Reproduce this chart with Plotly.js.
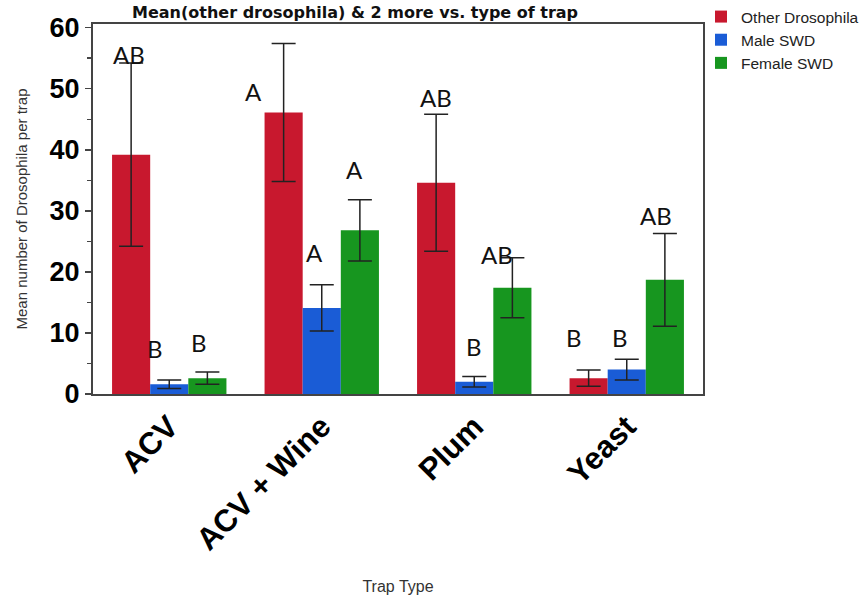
<!DOCTYPE html>
<html>
<head>
<meta charset="utf-8">
<script src="https://cdn.plot.ly/plotly-3.0.1.min.js"></script>
<style>html,body{margin:0;padding:0;background:#fff;}#chart{width:866px;height:600px;}</style>
</head>
<body>
<div id="chart"></div>
<script>
// ---- data ----
const categories = ["ACV", "ACV + Wine", "Plum", "Yeast"];
const seriesNames = ["Other Drosophila", "Male SWD", "Female SWD"];
const otherMean = [39.2, 46.1, 34.6, 2.6];
const otherErr  = [15.0, 11.3, 11.2, 1.35];
const maleMean  = [1.6, 14.1, 2.0, 4.0];
const maleErr   = [0.7, 3.8, 0.85, 1.7];
const femaleMean = [2.6, 26.8, 17.4, 18.7];
const femaleErr  = [1.0, 5.0, 4.9, 7.6];
// significance letters per series (rows) and category (columns)
const letters = [
  ["AB", "A", "AB", "B"],
  ["B", "A", "B", "B"],
  ["B", "A", "AB", "AB"]
];
const letterHeights = [
  [55.6, 49.5, 48.5, 9.3],
  [7.5, 23.1, 7.7, 9.3],
  [8.4, 36.7, 22.8, 29.2]
];
// ---- style ----
const colors = ["#C8182E", "#1A5CD6", "#17961F"];
const letterShift = [
  [-2, -30, 0, -15],
  [-14, -7, 0, -7],
  [-8, -5, -15, -9]
];

const means = [otherMean, maleMean, femaleMean];
const errs = [otherErr, maleErr, femaleErr];

const traces = seriesNames.map((name, s) => ({
  type: "bar",
  name: name,
  x: categories,
  y: means[s],
  marker: {color: colors[s], line: {width: 0}},
  error_y: {type: "data", array: errs[s], visible: true, color: "#222", thickness: 1.5, width: 12}
}));

const annotations = [];
const barW = 0.25;
letters.forEach((row, s) => {
  row.forEach((txt, c) => {
    annotations.push({
      x: c + (s - 1) * barW, y: letterHeights[s][c], xref: "x", yref: "y",
      text: txt, showarrow: false, xanchor: "center", yanchor: "middle",
      xshift: letterShift[s][c],
      font: {family: "Lato, 'Open Sans', sans-serif", size: 24, color: "#111"}
    });
  });
});

const layout = {
  width: 866, height: 600,
  margin: {l: 93, r: 163, t: 24, b: 206, autoexpand: false},
  paper_bgcolor: "#fff", plot_bgcolor: "#fff",
  barmode: "group", bargap: 0.25, bargroupgap: 0,
  title: {
    text: "<b>Mean(other drosophila) & 2 more vs. type of trap</b>",
    font: {family: "'DejaVu Sans', sans-serif", size: 16, color: "#111"},
    x: 0.41, xref: "container", xanchor: "center", y: 0.98, yref: "container", yanchor: "middle"
  },
  xaxis: {
    type: "category",
    tickangle: -45,
    tickfont: {family: "'Liberation Sans', Arial, sans-serif", size: 31, color: "#000", weight: "bold"},
    showline: true, linecolor: "#444", linewidth: 2, mirror: true,
    ticks: "", showgrid: false,
    title: {text: "Trap Type", font: {family: "'Liberation Sans', Arial, sans-serif", size: 16, color: "#333"}, standoff: 25}
  },
  yaxis: {
    range: [0, 60.6],
    dtick: 10,
    tickfont: {family: "'Liberation Sans', Arial, sans-serif", size: 27, color: "#000", weight: "bold"},
    showline: true, linecolor: "#444", linewidth: 2, mirror: true,
    ticks: "outside", ticklen: 6, tickwidth: 1.5, tickcolor: "#444",
    minor: {dtick: 5, ticks: "outside", ticklen: 4, tickcolor: "#444", showgrid: false},
    showgrid: false, zeroline: false,
    title: {text: "Mean number of Drosophila per trap", font: {family: "'Liberation Sans', Arial, sans-serif", size: 15, color: "#333"}, standoff: 18}
  },
  legend: {
    xref: "container", yref: "container",
    x: 0.8095, y: 1.007, xanchor: "left", yanchor: "top",
    font: {family: "'Liberation Sans', Arial, sans-serif", size: 15.5, color: "#222"},
    tracegroupgap: 0, itemwidth: 30, bgcolor: "rgba(0,0,0,0)"
  },
  annotations: annotations,
  showlegend: true
};

Plotly.newPlot("chart", traces, layout, {displayModeBar: false, staticPlot: true});
</script>
</body>
</html>
